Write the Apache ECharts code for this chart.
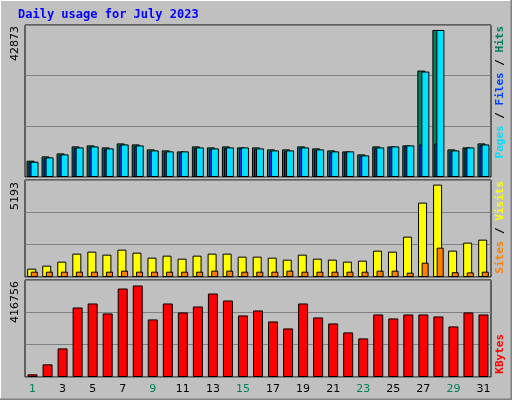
<!DOCTYPE html>
<html>
<head>
<meta charset="utf-8">
<script src="https://cdn.jsdelivr.net/npm/echarts@6/dist/echarts.min.js"></script>
<style>html,body{margin:0;padding:0;background:#c0c0c0;}#c{width:512px;height:400px;}</style>
</head>
<body>
<div id="c"></div>
<script>
const days = Array.from({length: 31}, (_, i) => String(i + 1));
const weekends = [1, 2, 8, 9, 15, 16, 22, 23, 29, 30];

const hits = [4753, 6014, 6887, 8924, 9215, 8633, 9797, 9506, 8051, 7760, 7469, 8924, 8633, 8924, 8633, 8633,
    8051, 8051, 8924, 8342, 7760, 7469, 6596, 8924, 8924, 9215, 31040, 42873, 8051, 8633, 9797];
const files = [4460, 5720, 6600, 8630, 8920, 8340, 9500, 9210, 7760, 7470, 7470, 8630, 8340, 8630, 8630, 8340,
    7760, 7760, 8630, 8050, 7470, 7470, 6300, 8630, 8920, 9215, 30749, 42873, 7760, 8630, 9500];
const pages = [4300, 5500, 6400, 8400, 8700, 8100, 9300, 9000, 7500, 7200, 7200, 8400, 8100, 8400, 8400, 8100,
    7500, 7500, 8400, 7800, 7200, 7200, 6100, 8400, 8700, 9000, 9506, 9797, 7500, 8400, 9300];
const visits = [469, 638, 863, 1313, 1425, 1256, 1538, 1369, 1088, 1200, 1031, 1200, 1313, 1313, 1144, 1144,
    1088, 975, 1256, 1031, 975, 863, 919, 1481, 1425, 2269, 4181, 5193, 1481, 1931, 2100];
const sites = [300, 300, 300, 300, 300, 300, 356, 300, 300, 300, 300, 300, 356, 356, 300, 300,
    300, 356, 300, 300, 300, 300, 300, 356, 356, 244, 806, 1650, 270, 260, 300];
const kbytes = [12120, 57570, 130290, 316635, 334815, 289365, 402990, 416756, 262095, 334815, 293910, 321180,
    380265, 348450, 280275, 303000, 253005, 221190, 334815, 271185, 243915, 203010, 175740, 284820, 266640,
    284820, 284820, 275730, 230280, 293910, 284820];

const chart = echarts.init(document.getElementById('c'));

const maxTop = 42873 * 1.034, maxMid = 5193 * 1.05, maxBot = 416756 * 1.06;

function xAxis(idx, showLabels) {
    return {
        type: 'category', gridIndex: idx, data: days,
        axisLine: {show: false}, axisTick: {show: false},
        axisLabel: {
            show: showLabels, margin: 7, fontSize: 11, fontFamily: 'DejaVu Sans',
            color: (v) => weekends.includes(+v) ? '#00805c' : '#000'
        }
    };
}
function yAxis(idx, max) {
    return {
        type: 'value', gridIndex: idx, min: 0, max: max, interval: max / 3,
        axisLabel: {show: false}, axisLine: {show: false}, axisTick: {show: false},
        splitLine: {lineStyle: {color: '#808080', width: 1}}
    };
}
const bar = (name, data, color, idx, width, gap) => ({
    name, type: 'bar', xAxisIndex: idx, yAxisIndex: idx, data,
    barWidth: width, barGap: gap,
    itemStyle: {color, borderColor: '#000', borderWidth: 1}
});

const vText = (x, y, rich, text) => ({
    type: 'text', x, y, rotation: Math.PI / 2,
    style: {text, rich, font: 'bold 11px "DejaVu Sans Mono"', align: 'right', verticalAlign: 'middle'}
});

chart.setOption({
    animation: false,
    backgroundColor: '#c0c0c0',
    grid: [
        {left: 25, right: 21, top: 25, height: 152, show: true, backgroundColor: '#c0c0c0', borderColor: '#000'},
        {left: 25, right: 21, top: 180, height: 97, show: true, backgroundColor: '#c0c0c0', borderColor: '#000'},
        {left: 25, right: 21, top: 280, height: 97, show: true, backgroundColor: '#c0c0c0', borderColor: '#000'}
    ],
    xAxis: [xAxis(0, false), xAxis(1, false), xAxis(2, true)],
    yAxis: [yAxis(0, maxTop), yAxis(1, maxMid), yAxis(2, maxBot)],
    series: [
        bar('Hits', hits, '#008060', 0, 8, '-75%'),
        bar('Pages', pages, '#0040ff', 0, 8, '-75%'),
        bar('Files', files, '#00e0ff', 0, 8, '-75%'),
        bar('Visits', visits, '#ffff00', 1, 9, '-60%'),
        bar('Sites', sites, '#ff8000', 1, 7, '-60%'),
        bar('KBytes', kbytes, '#ff0000', 2, 10, '0%')
    ],
    graphic: [
        {type: 'rect', shape: {x: 0.5, y: 0.5, width: 511, height: 399}, style: {fill: null, stroke: '#fff'}},
        {type: 'polyline', shape: {points: [[511.5, 0], [511.5, 399.5], [0, 399.5]]}, style: {fill: null, stroke: '#808080', lineWidth: 2}},
        {type: 'text', x: 18, y: 9, style: {text: 'Daily usage for July 2023', font: 'bold 12px "DejaVu Sans Mono"', fill: '#0000ff'}},
        {type: 'text', x: 10, y: 26, rotation: Math.PI / 2, style: {text: '42873', font: '11px "DejaVu Sans"', fill: '#000', align: 'right', verticalAlign: 'top'}},
        {type: 'text', x: 10, y: 182, rotation: Math.PI / 2, style: {text: '5193', font: '11px "DejaVu Sans"', fill: '#000', align: 'right', verticalAlign: 'top'}},
        {type: 'text', x: 10, y: 281, rotation: Math.PI / 2, style: {text: '416756', font: '11px "DejaVu Sans"', fill: '#000', align: 'right', verticalAlign: 'top'}},
        vText(500, 26, {p: {fill: '#00e0ff'}, s: {fill: '#000'}, f: {fill: '#0040ff'}, h: {fill: '#008060'}},
            '{p|Pages}{s| / }{f|Files}{s| / }{h|Hits}'),
        vText(500, 181, {a: {fill: '#ff8000'}, s: {fill: '#000'}, b: {fill: '#ffff00'}},
            '{a|Sites}{s| / }{b|Visits}'),
        vText(500, 334, {k: {fill: '#ff0000'}}, '{k|KBytes}')
    ]
});
</script>
</body>
</html>
